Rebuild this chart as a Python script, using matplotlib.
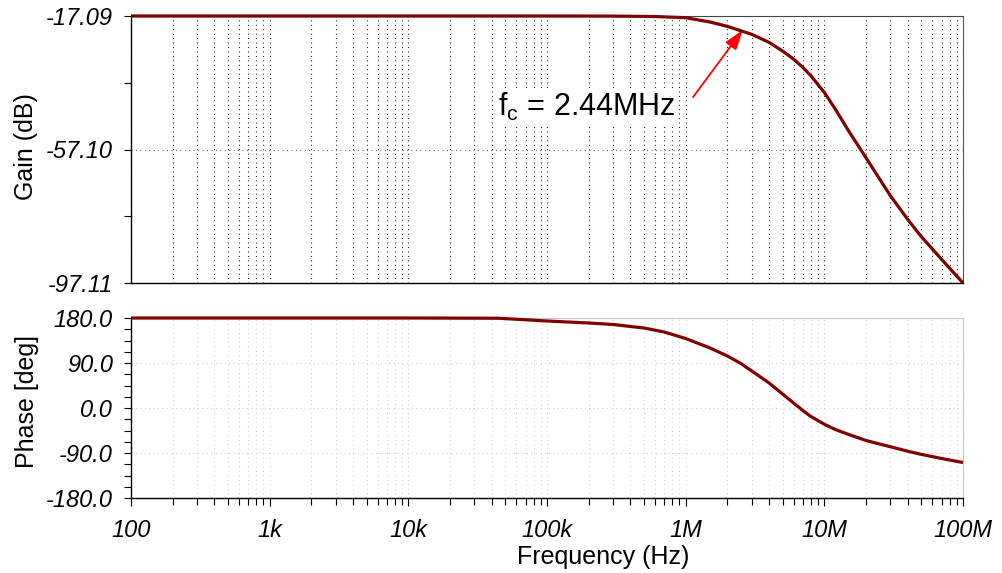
import numpy as np
import matplotlib
matplotlib.use("Agg")
import matplotlib.pyplot as plt
from matplotlib.ticker import FixedLocator, LogLocator, NullFormatter

plt.rcParams["font.family"] = ["Liberation Sans", "DejaVu Sans"]
plt.rcParams["mathtext.fontset"] = "custom"
plt.rcParams["mathtext.rm"] = "Liberation Sans"
plt.rcParams["mathtext.it"] = "Liberation Sans:italic"

# gain curve
gain_freq = [1e2, 1e3, 1e4, 1e5, 3e5, 6e5, 1e6, 1.5e6, 2e6, 3e6, 4e6, 5e6,
             6e6, 7e6, 8e6, 1e7, 1.2e7, 1.5e7, 2e7, 2.5e7, 3e7, 4e7, 5e7,
             7e7, 1e8]
gain_db = [-17.09, -17.09, -17.09, -17.09, -17.12, -17.25, -17.6, -18.9,
           -20.2, -22.6, -25.0, -27.6, -30.0, -32.5, -35.0, -40.0, -45.0,
           -51.6, -59.6, -65.9, -71.0, -78.1, -83.2, -90.0, -97.11]

# phase curve
phase_freq = [1e2, 1e3, 1e4, 4.5e4, 1e5, 2e5, 3e5, 5e5, 7e5, 1e6, 1.5e6, 2e6,
              2.5e6, 3e6, 4e6, 5e6, 6e6, 7e6, 8e6, 1e7, 1.2e7, 1.5e7, 2e7,
              2.5e7, 3e7, 4e7, 5e7, 7e7, 1e8]
phase_deg = [180, 180, 180, 179.5, 174, 170, 167, 160, 152, 139, 120, 104,
             89, 74, 50, 28, 10, -5, -17, -32.5, -43, -53, -65, -72, -77.5,
             -86.5, -92.7, -101, -109]

x_ticks = [1e2, 1e3, 1e4, 1e5, 1e6, 1e7, 1e8]
x_labels = ["100", "1k", "10k", "100k", "1M", "10M", "100M"]
gain_ticks = [-17.09, -57.10, -97.11]
gain_labels = ["-17.09", "-57.10", "-97.11"]
gain_minor = [-37.10, -77.10]
phase_ticks = [180, 90, 0, -90, -180]
phase_labels = ["180.0", "90.0", "0.0", "-90.0", "-180.0"]
phase_minor = [157.5, 135, 112.5, 67.5, 45, 22.5, -22.5, -45, -67.5,
               -112.5, -135, -157.5]

line_color = "#800000"

fig = plt.figure(figsize=(10.02, 5.73), dpi=100)
W, H = 1002, 573
ax1 = fig.add_axes([131 / W, 1 - 283 / H, 832 / W, 267 / H])
ax2 = fig.add_axes([131 / W, 1 - 498 / H, 832 / W, 180 / H])

for ax in (ax1, ax2):
    ax.set_xscale("log")
    ax.set_xlim(1e2, 1e8)
    ax.xaxis.set_major_locator(FixedLocator(x_ticks))
    ax.xaxis.set_minor_locator(LogLocator(base=10, subs=range(2, 10), numticks=20))
    ax.xaxis.set_minor_formatter(NullFormatter())
    ax.spines["left"].set_color("black")
    ax.spines["bottom"].set_color("black")
    ax.spines["left"].set_linewidth(1.0)
    ax.spines["bottom"].set_linewidth(1.0)

# --- gain panel ---
ax1.plot(gain_freq, gain_db, color=line_color, lw=2.3, clip_on=False,
         solid_capstyle="butt", solid_joinstyle="round", zorder=5)
ax1.set_ylim(-97.11, -17.09)
ax1.yaxis.set_major_locator(FixedLocator(gain_ticks))
ax1.yaxis.set_minor_locator(FixedLocator(gain_minor))
ax1.set_yticklabels(gain_labels, fontstyle="italic", fontsize=17)
ax1.tick_params(axis="x", which="both", length=0, labelbottom=False)
ax1.tick_params(axis="y", which="both", direction="out", length=5, width=0.8,
                pad=8)
ax1.grid(True, axis="x", which="both", color="black", lw=0.8,
         linestyle=(0, (0.8, 3.2)))
ax1.grid(True, axis="y", which="major", color="#555555", lw=0.8,
         linestyle=(0, (0.8, 3.2)))
ax1.spines["top"].set_color("#444444")
ax1.spines["right"].set_color("#555555")

ax1.annotate("", xy=(2.58e6, -21.3), xytext=(1.13e6, -41.4),
             arrowprops=dict(arrowstyle="-|>,head_length=0.6,head_width=0.2",
                             color="red", lw=1.3, mutation_scale=20,
                             shrinkA=0, shrinkB=0))
ax1.text(4.44e4, -47.1, r"f$_\mathrm{c}$ = 2.44MHz", fontsize=22,
         ha="left", va="baseline", color="black",
         bbox=dict(facecolor="white", edgecolor="none", pad=1))

# --- phase panel ---
ax2.plot(phase_freq, phase_deg, color=line_color, lw=2.3, clip_on=False,
         solid_capstyle="butt", solid_joinstyle="round", zorder=5)
ax2.set_ylim(-180, 180)
ax2.yaxis.set_major_locator(FixedLocator(phase_ticks))
ax2.yaxis.set_minor_locator(FixedLocator(phase_minor))
ax2.set_yticklabels(phase_labels, fontstyle="italic", fontsize=17)
ax2.set_xticklabels(x_labels, fontstyle="italic", fontsize=17)
ax2.tick_params(axis="y", which="both", direction="out", length=5, width=0.8,
                pad=8)
ax2.tick_params(axis="x", which="major", direction="out", length=6, width=0.8,
                pad=9)
ax2.tick_params(axis="x", which="minor", direction="out", length=5, width=0.8)
ax2.grid(True, axis="x", which="both", color="#c8c8c8", lw=0.8,
         linestyle=(0, (0.8, 3.2)))
ax2.grid(True, axis="y", which="major", color="#c8c8c8", lw=0.8,
         linestyle=(0, (0.8, 3.2)))
ax2.spines["top"].set_color("#c8c8c8")
ax2.spines["right"].set_color("#c8c8c8")

fig.text(26 / W, 1 - 147 / H, "Gain (dB)", rotation=90, ha="center",
         va="center", fontsize=18)
fig.text(27 / W, 1 - 402 / H, "Phase [deg]", rotation=90, ha="center",
         va="center", fontsize=18)
fig.text(603 / W, 1 - 557 / H, "Frequency (Hz)", ha="center", va="center",
         fontsize=18)

fig.savefig("out.png", dpi=100)
